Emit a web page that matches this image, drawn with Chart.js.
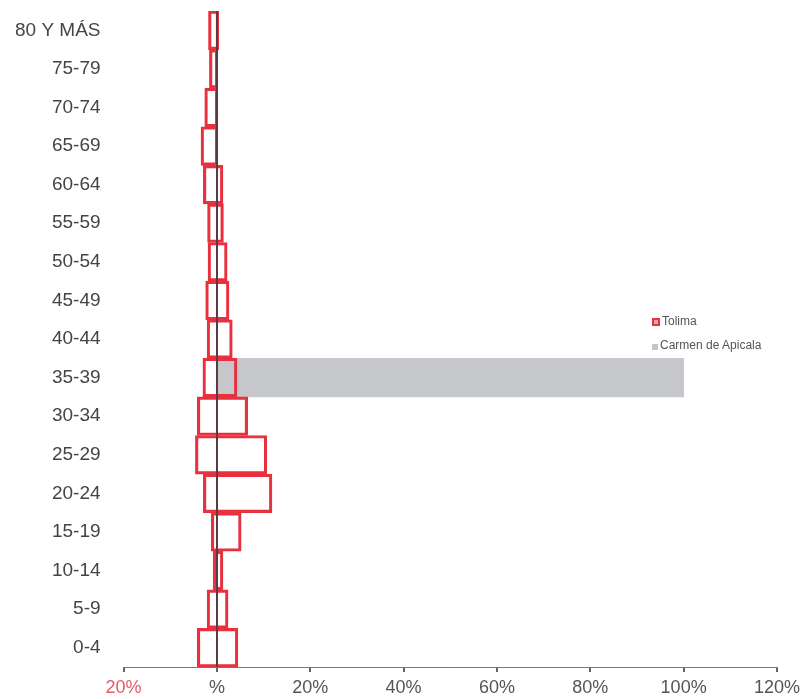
<!DOCTYPE html>
<html>
<head>
<meta charset="utf-8">
<script src="https://cdn.jsdelivr.net/npm/chart.js@4"></script>
<style>
  body { margin: 0; background: #fff; }
  #wrap { position: relative; width: 807px; height: 699px; }
  #legend { position: absolute; left: 652px; top: 313px; font-family: "Liberation Sans", Arial, sans-serif; font-size: 12px; color: #555; }
  #legend div { height: 24px; line-height: 16px; }
  #legend span.sw { display: inline-block; width: 6px; height: 6px; margin-right: 2px; vertical-align: -1px; }
</style>
</head>
<body>
<div id="wrap">
  <canvas id="myChart" width="807" height="699"></canvas>
  <div id="legend">
    <div><span class="sw" style="border:2px solid #e8303f;background:#f5a0a8;width:4px;height:4px"></span>Tolima</div>
    <div><span class="sw" style="background:#c4c5c9"></span>Carmen de Apicala</div>
  </div>
</div>
<script>
const edades = ["80 Y MÁS", "75-79", "70-74", "65-69", "60-64", "55-59", "50-54", "45-49",
  "40-44", "35-39", "30-34", "25-29", "20-24", "15-19", "10-14", "5-9", "0-4"];
// Tolima: lado izquierdo y lado derecho de cada barra (%)
const tolimaIzq = [-1.8, -1.6, -2.6, -3.4, -2.9, -2.0, -1.9, -2.4, -2.1, -3.0, -4.2, -4.6, -2.9, -1.2, -0.8, -2.1, -4.2];
const tolimaDer = [0.4, 0.2, 0.2, 0.2, 1.3, 1.4, 2.2, 2.6, 3.3, 4.3, 6.6, 10.7, 11.8, 5.2, 1.3, 2.4, 4.5];
const carmen = [0, 0, 0, 0, 0, 0, 0, 0, 0, 100, 0, 0, 0, 0, 0, 0, 0];

const tolimaData = tolimaIzq.map((v, i) => [v, tolimaDer[i]]);

const data = {
  labels: edades,
  datasets: [
    {
      label: "Tolima",
      data: tolimaData,
      backgroundColor: "rgba(0,0,0,0)",
      borderColor: "#e8303f",
      borderWidth: 2.5,
      borderSkipped: false,
      grouped: false,
      barPercentage: 1,
      categoryPercentage: 1,
    },
    {
      label: "Carmen de Apicala",
      data: carmen,
      backgroundColor: "#c6c7cb",
      borderWidth: 0,
      grouped: false,
      barPercentage: 1,
      categoryPercentage: 1,
    },
  ],
};

const config = {
  type: "bar",
  data: data,
  options: {
    indexAxis: "y",
    responsive: false,
    animation: false,
    layout: { padding: { left: 0, right: 5, top: 11, bottom: -5 } },
    plugins: { legend: { display: false }, tooltip: { enabled: false } },
    scales: {
      x: {
        min: -20,
        max: 120,
        grid: {
          z: 1,
          color: (ctx) => (ctx.tick && ctx.tick.value === 0 ? "#5a3a44" : "rgba(0,0,0,0)"),
          lineWidth: 2,
          tickColor: "#666",
          tickLength: 5,
        },
        border: { display: true, color: "#777", width: 1, z: 2 },
        ticks: {
          stepSize: 20,
          font: { family: "Liberation Sans", size: 18, lineHeight: 1 },
          color: (ctx) => (ctx.tick && ctx.tick.value === -20 ? "#e45a68" : "#555"),
          padding: 7,
          callback: (v) => (v === 0 ? "%" : Math.abs(v) + "%"),
        },
      },
      y: {
        grid: { display: false },
        border: { display: false },
        afterFit: (s) => {
          s.paddingTop = 0;
          s.paddingBottom = 0;
        },
        ticks: {
          font: { family: "Liberation Sans", size: 19 },
          color: "#444",
          padding: 15,
        },
      },
    },
  },
};

new Chart(document.getElementById("myChart"), config);
</script>
</body>
</html>
